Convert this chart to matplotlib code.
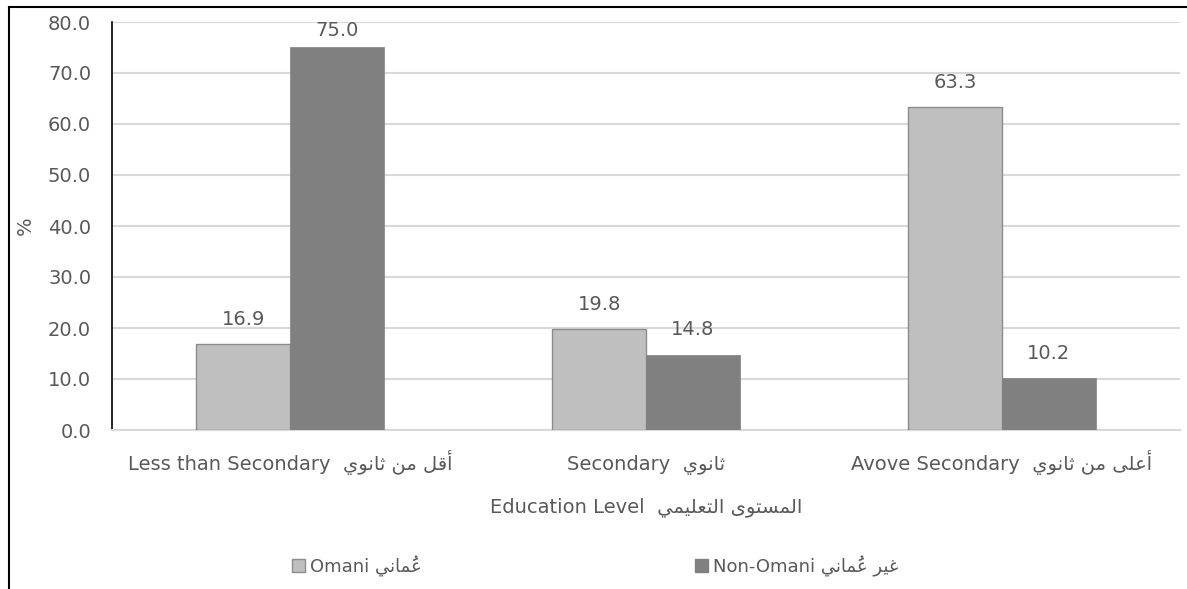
import matplotlib
matplotlib.use("Agg")
import matplotlib.pyplot as plt
from matplotlib.patches import Rectangle
from matplotlib.lines import Line2D
import numpy as np

# ---- minimal Arabic shaping (presentation forms + visual order) ----
FORMS = {
    '\u0627': ('\uFE8D', '\uFE8E', None, None),
    '\u0623': ('\uFE83', '\uFE84', None, None),
    '\u062A': ('\uFE95', '\uFE96', '\uFE97', '\uFE98'),
    '\u062B': ('\uFE99', '\uFE9A', '\uFE9B', '\uFE9C'),
    '\u0631': ('\uFEAD', '\uFEAE', None, None),
    '\u0633': ('\uFEB1', '\uFEB2', '\uFEB3', '\uFEB4'),
    '\u0639': ('\uFEC9', '\uFECA', '\uFECB', '\uFECC'),
    '\u063A': ('\uFECD', '\uFECE', '\uFECF', '\uFED0'),
    '\u0642': ('\uFED5', '\uFED6', '\uFED7', '\uFED8'),
    '\u0644': ('\uFEDD', '\uFEDE', '\uFEDF', '\uFEE0'),
    '\u0645': ('\uFEE1', '\uFEE2', '\uFEE3', '\uFEE4'),
    '\u0646': ('\uFEE5', '\uFEE6', '\uFEE7', '\uFEE8'),
    '\u0648': ('\uFEED', '\uFEEE', None, None),
    '\u0649': ('\uFEEF', '\uFEF0', '\uFBE8', '\uFBE9'),
    '\u064A': ('\uFEF1', '\uFEF2', '\uFEF3', '\uFEF4'),
}
MARKS = {'\u064B', '\u064C', '\u064D', '\u064E', '\u064F', '\u0650', '\u0651', '\u0652'}


def ar(s):
    chars = list(s)
    n = len(chars)
    clusters = []
    for i, ch in enumerate(chars):
        if ch in MARKS:
            if clusters:
                clusters[-1] = ch + clusters[-1]   # mark drawn before its base (visual order)
            else:
                clusters.append(ch)
            continue
        if ch not in FORMS:
            clusters.append(ch)
            continue
        j = i - 1
        while j >= 0 and chars[j] in MARKS:
            j -= 1
        k = i + 1
        while k < n and chars[k] in MARKS:
            k += 1
        jp = j >= 0 and chars[j] in FORMS and FORMS[chars[j]][2] is not None
        jn = FORMS[ch][2] is not None and k < n and chars[k] in FORMS
        iso, fin, ini, med = FORMS[ch]
        if jp and jn:
            g = med
        elif jp:
            g = fin
        elif jn:
            g = ini
        else:
            g = iso
        clusters.append(g)
    return ''.join(reversed(clusters))


# ---- data ----
categories_en = ["Less than Secondary", "Secondary", "Avove Secondary"]
categories_ar = ["أقل من ثانوي", "ثانوي", "أعلى من ثانوي"]
series_en = ["Omani", "Non-Omani"]
series_ar = ["عُماني", "غير عُماني"]
omani = [16.9, 19.8, 63.3]
non_omani = [75.0, 14.8, 10.2]
yticks = [0, 10, 20, 30, 40, 50, 60, 70, 80]
xlabel_en = "Education Level"
xlabel_ar = "المستوى التعليمي"
ylabel = "%"

FONT = ['DejaVu Sans']
plt.rcParams['font.family'] = FONT
TXT = '#595959'
FS = 14
W, H = 1187, 589

fig = plt.figure(figsize=(W / 100, H / 100), dpi=100)
ax = fig.add_axes([112 / W, 1 - 430 / H, (1180 - 112) / W, (430 - 22) / H])

x = np.arange(len(categories_en))
w = 0.263
b1 = ax.bar(x - w / 2, omani, w, color='#BFBFBF', edgecolor='#8C8C8C', linewidth=1.0, zorder=3)
b2 = ax.bar(x + w / 2, non_omani, w, color='#808080', edgecolor='#808080', linewidth=0.5, zorder=3)

ax.set_xlim(-0.5, 2.5)
ax.set_ylim(0, 80)
ax.set_yticks(yticks)
ax.set_yticklabels([f"{v:.1f}" for v in yticks])
ax.yaxis.grid(True, color='#D9D9D9', linewidth=1.5, zorder=0)
ax.set_axisbelow(True)
for s in ['top', 'right']:
    ax.spines[s].set_visible(False)
ax.spines['left'].set_color('#000000')
ax.spines['left'].set_linewidth(1.2)
ax.spines['bottom'].set_color('#D9D9D9')
ax.spines['bottom'].set_linewidth(1.5)
ax.tick_params(axis='both', length=0, labelsize=FS, colors=TXT)
ax.tick_params(axis='y', pad=15)
ax.tick_params(axis='x', pad=29)

ax.set_xticks(x)
ax.set_xticklabels([f"{e}  {ar(a)}" for e, a in zip(categories_en, categories_ar)])
for lab in ax.get_xticklabels():
    lab.set_verticalalignment('baseline')

# value labels
for bars, vals in ((b1, omani), (b2, non_omani)):
    for r, v in zip(bars, vals):
        ty = min(v + 3.0, 76.5)
        ax.text(r.get_x() + r.get_width() / 2, ty, f"{v:.1f}", ha='center', va='bottom',
                fontsize=FS, color=TXT)

# axis titles
fig.text(0.5 * (112 + 1180) / W, 1 - 507 / H, f"{xlabel_en}  {ar(xlabel_ar)}", fontsize=FS,
         color=TXT, ha='center', va='center')
fig.text(25 / W, 1 - 226 / H, ylabel, fontsize=FS, color=TXT, rotation=90,
         ha='center', va='center')

# legends
h1 = Rectangle((0, 0), 1, 1, facecolor='#BFBFBF', edgecolor='#8C8C8C', linewidth=1.0)
h2 = Rectangle((0, 0), 1, 1, facecolor='#808080', edgecolor='#808080', linewidth=1.0)
LY = 1 - 566 / H
fig.legend([h1], [f"{series_en[0]} {ar(series_ar[0])}"], loc='center left',
           bbox_to_anchor=(292 / W, LY), frameon=False, fontsize=13,
           handlelength=0.7, handleheight=0.7, handletextpad=0.3, labelcolor=TXT,
           borderpad=0, borderaxespad=0)
fig.legend([h2], [f"{series_en[1]} {ar(series_ar[1])}"], loc='center left',
           bbox_to_anchor=(695 / W, LY), frameon=False, fontsize=13,
           handlelength=0.7, handleheight=0.7, handletextpad=0.3, labelcolor=TXT,
           borderpad=0, borderaxespad=0)

# outer frame (left and top edges visible)
fig.add_artist(Line2D([9 / W, 9 / W], [0, 1 - 7 / H], transform=fig.transFigure,
                      color='black', linewidth=1.5))
fig.add_artist(Line2D([9 / W, 1], [1 - 7 / H, 1 - 7 / H], transform=fig.transFigure,
                      color='black', linewidth=1.5))

fig.savefig('out.png', dpi=100)
